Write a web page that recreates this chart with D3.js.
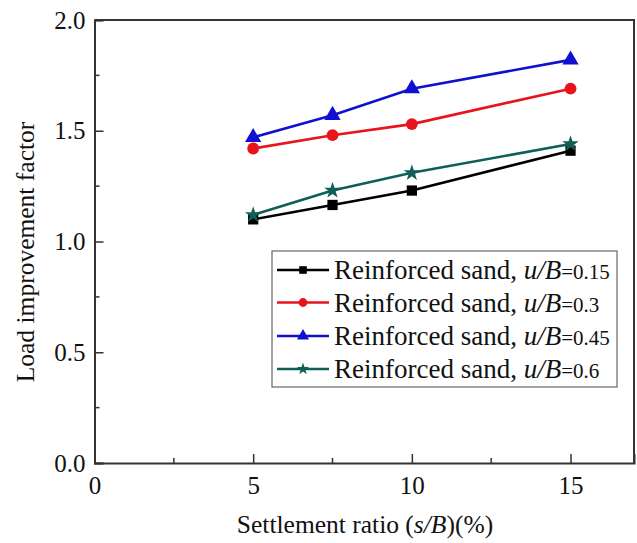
<!DOCTYPE html>
<html>
<head>
<meta charset="utf-8">
<script src="https://cdn.jsdelivr.net/npm/d3@7"></script>
<style>
  html, body { margin: 0; padding: 0; background: #fff; }
  svg { display: block; }
  text { font-family: "Liberation Serif", "Times New Roman", serif; fill: #111; }
</style>
</head>
<body>
<script>
// Settlement ratios (s/B, %) at which the load improvement factor was measured
const settlement = [5, 7.5, 10, 15];

// Load improvement factor for each embedment depth ratio u/B
const lif015 = [1.10, 1.165, 1.23, 1.41];
const lif030 = [1.42, 1.48, 1.53, 1.69];
const lif045 = [1.47, 1.57, 1.69, 1.82];
const lif060 = [1.12, 1.23, 1.31, 1.44];

const seriesNames = ["0.15", "0.3", "0.45", "0.6"];
const seriesColors = ["#000000", "#e8141c", "#1010d0", "#0f5f56"];
const seriesSymbols = [d3.symbolSquare, d3.symbolCircle, d3.symbolTriangle, d3.symbolStar];

const xTicks = [0, 5, 10, 15];
const yTicks = [0.0, 0.5, 1.0, 1.5, 2.0];

const W = 637, H = 543;
const margin = { left: 94.5, right: 3, top: 20, bottom: 80 };

const svg = d3.select("body").append("svg").attr("width", W).attr("height", H);

const x = d3.scaleLinear().domain([0, 17]).range([margin.left, W - margin.right]);
const y = d3.scaleLinear().domain([0, 2]).range([H - margin.bottom, margin.top]);

const series = [lif015, lif030, lif045, lif060].map((vals, i) => ({
  name: seriesNames[i],
  color: seriesColors[i],
  symbol: seriesSymbols[i],
  values: vals.map((v, j) => ({ x: settlement[j], y: v }))
}));

// Axes: ticks point into the plot area
const axisColor = "#333";
const gx = svg.append("g").attr("transform", `translate(0,${y(0)})`)
  .call(d3.axisBottom(x).tickValues(xTicks).tickSize(-9).tickPadding(13).tickFormat(d3.format("d")));
const gy = svg.append("g").attr("transform", `translate(${x(0)},0)`)
  .call(d3.axisLeft(y).tickValues(yTicks).tickSize(-9).tickPadding(9).tickFormat(d3.format(".1f")));

// Minor ticks
const minorX = [2.5, 7.5, 12.5];
const minorY = [0.25, 0.75, 1.25, 1.75];
svg.append("g").selectAll("line").data(minorX).join("line")
  .attr("x1", d => x(d)).attr("x2", d => x(d))
  .attr("y1", y(0)).attr("y2", y(0) - 5)
  .attr("stroke", axisColor).attr("stroke-width", 1.5);
svg.append("g").selectAll("line").data(minorY).join("line")
  .attr("x1", x(0)).attr("x2", x(0) + 5)
  .attr("y1", d => y(d)).attr("y2", d => y(d))
  .attr("stroke", axisColor).attr("stroke-width", 1.5);

[gx, gy].forEach(g => {
  g.select(".domain").attr("stroke", axisColor).attr("stroke-width", 2);
  g.selectAll(".tick line").attr("stroke", axisColor).attr("stroke-width", 1.5);
  g.selectAll(".tick text").attr("font-size", 25).attr("fill", "#111")
    .style("font-family", "'Liberation Serif', 'Times New Roman', serif");
});

// Top and right frame
svg.append("path")
  .attr("d", `M${x(0)},${y(2)}H${x(17)}V${y(0)}`)
  .attr("fill", "none").attr("stroke", axisColor).attr("stroke-width", 2);

// Axis titles
const xt = svg.append("text")
  .attr("x", 365).attr("y", 533)
  .attr("text-anchor", "middle").attr("font-size", 25.5);
xt.append("tspan").text("Settlement ratio (");
xt.append("tspan").attr("font-style", "italic").text("s/B");
xt.append("tspan").text(")(%)");

svg.append("text")
  .attr("transform", "translate(34,252) rotate(-90)")
  .attr("text-anchor", "middle").attr("font-size", 25.5)
  .text("Load improvement factor");

// Lines and markers
const line = d3.line().x(d => x(d.x)).y(d => y(d.y));
function symbolArea(sym) {
  if (sym === d3.symbolSquare) return 105;
  if (sym === d3.symbolCircle) return 110;
  if (sym === d3.symbolTriangle) return 115;
  return 85;
}

series.forEach(s => {
  svg.append("path").datum(s.values)
    .attr("d", line).attr("fill", "none")
    .attr("stroke", s.color).attr("stroke-width", 2.6);
  svg.append("g").selectAll("path").data(s.values).join("path")
    .attr("transform", d => `translate(${x(d.x)},${y(d.y)})`)
    .attr("d", d3.symbol().type(s.symbol).size(symbolArea(s.symbol)))
    .attr("fill", s.color);
});

// Legend
const lg = svg.append("g").attr("transform", "translate(272,251)");
lg.append("rect").attr("width", 345).attr("height", 136)
  .attr("fill", "#fff").attr("stroke", "#666").attr("stroke-width", 1.2);
const rowY = [19, 51.5, 85, 118];
series.forEach((s, i) => {
  const row = lg.append("g").attr("transform", `translate(0,${rowY[i]})`);
  row.append("line").attr("x1", 5).attr("x2", 57).attr("y1", 0).attr("y2", 0)
    .attr("stroke", s.color).attr("stroke-width", 2.6);
  row.append("path").attr("transform", "translate(31,0)")
    .attr("d", d3.symbol().type(s.symbol).size(symbolArea(s.symbol) * 0.55))
    .attr("fill", s.color);
  const t = row.append("text").attr("x", 62).attr("y", 9).attr("font-size", 27);
  t.append("tspan").text("Reinforced sand, ");
  t.append("tspan").attr("font-style", "italic").text("u/B");
  t.append("tspan").attr("font-size", 21).text("=" + s.name);
});
</script>
</body>
</html>
